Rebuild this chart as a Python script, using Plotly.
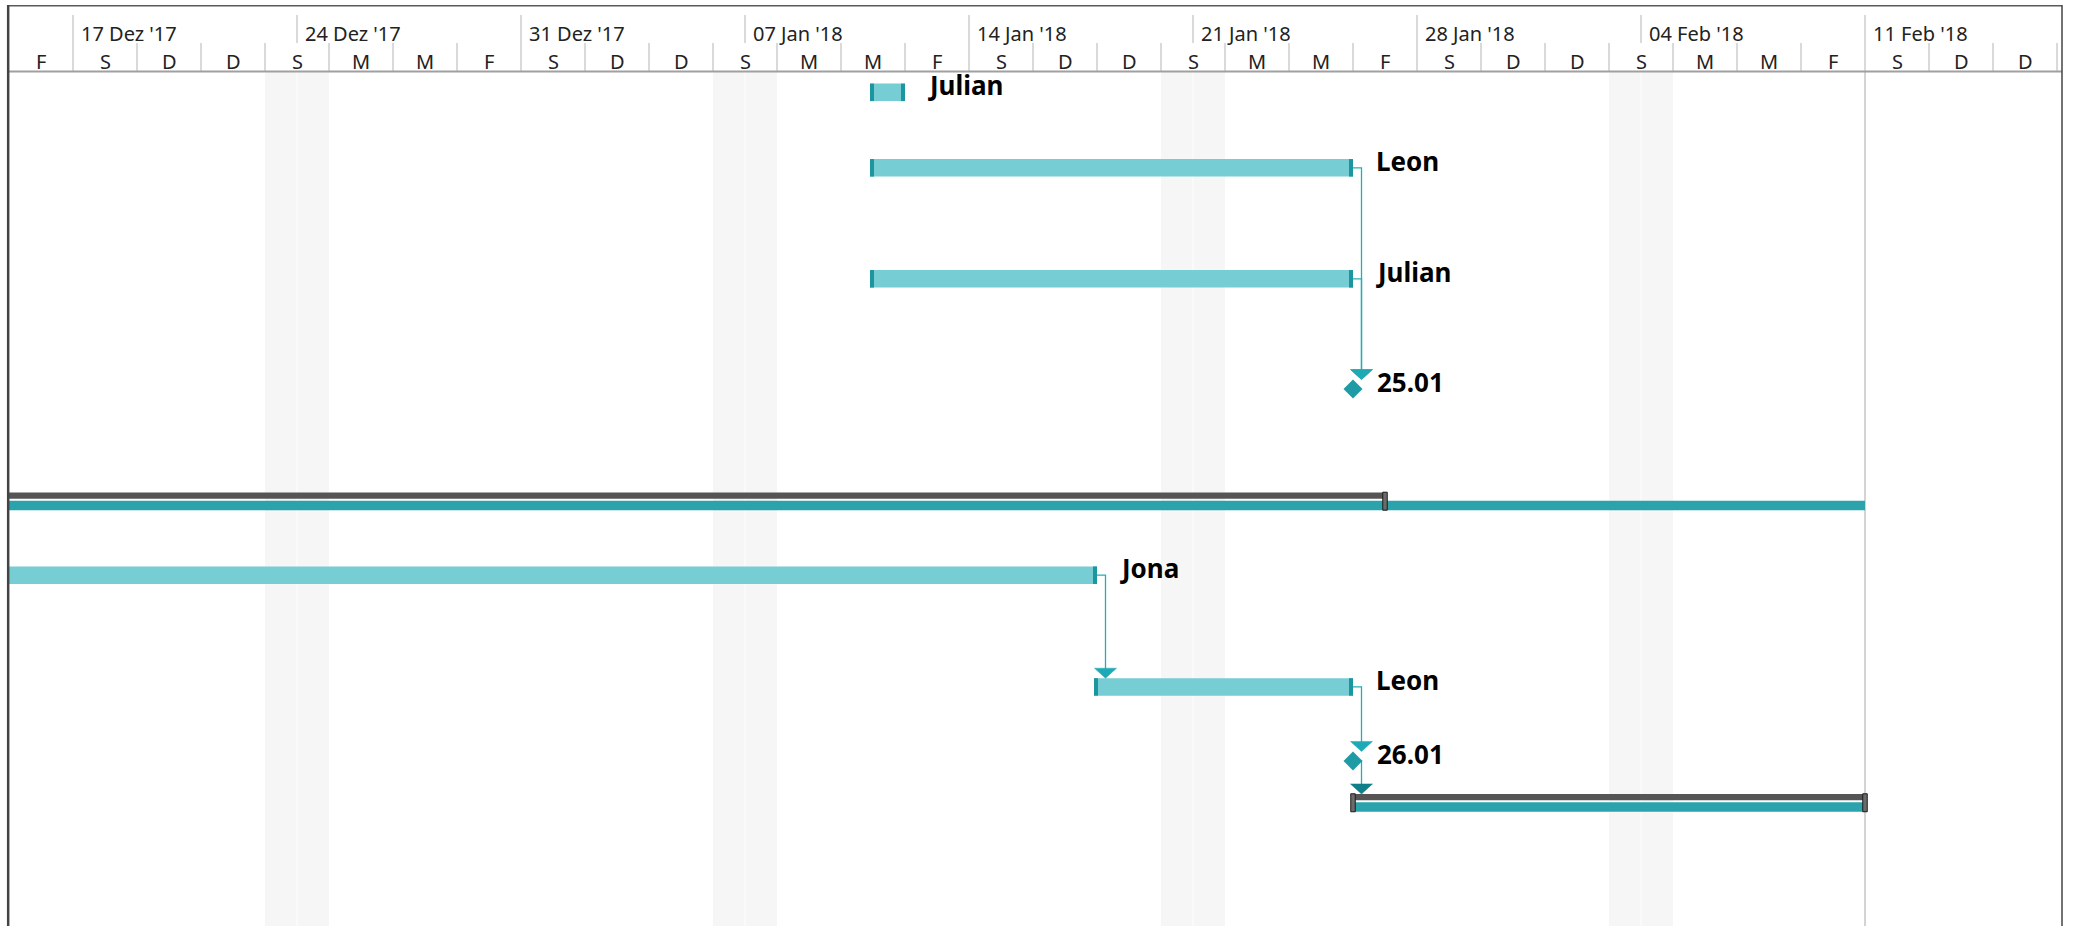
import plotly.graph_objects as go
import pandas as pd

# ---------------- data ----------------
WEEK_STARTS = ["2017-12-17", "2017-12-24", "2017-12-31", "2018-01-07", "2018-01-14",
               "2018-01-21", "2018-01-28", "2018-02-04", "2018-02-11"]
WEEK_LABELS = ["17 Dez '17", "24 Dez '17", "31 Dez '17", "07 Jan '18", "14 Jan '18",
               "21 Jan '18", "28 Jan '18", "04 Feb '18", "11 Feb '18"]
COLUMN_LABELS = ["F", "S", "D", "D", "S", "M", "M", "F", "S", "D", "D", "S", "M", "M", "F", "S",
                 "D", "D", "S", "M", "M", "F", "S", "D", "D", "S", "M", "M", "F", "S", "D", "D"]
COLUMN_FIRST = "2017-12-15"
WEEKEND_SATURDAYS = ["2017-12-23", "2018-01-06", "2018-01-20", "2018-02-03"]
FINISH_DATE = "2018-02-11"

TASK_LABELS = ["Julian", "Leon", "Julian", "Jona", "Leon"]
TASK_START = ["2018-01-11", "2018-01-11", "2018-01-11", "2017-12-04", "2018-01-18"]
TASK_END = ["2018-01-12", "2018-01-26", "2018-01-26", "2018-01-18", "2018-01-26"]

MILESTONE_LABELS = ["25.01", "26.01"]
MILESTONE_DATE = ["2018-01-26", "2018-01-26"]

SUMMARY_START = ["2017-12-04", "2018-01-26"]
SUMMARY_END = ["2018-01-27", "2018-02-11"]        # grey summary bar
SUMMARY_TEAL_END = ["2018-02-11", "2018-02-11"]   # teal bar

# links: (source kind, index) -> (target kind, index)
LINKS = [(("task", 1), ("ms", 0)), (("task", 2), ("ms", 0)), (("task", 3), ("task", 4)),
         (("task", 4), ("ms", 1)), (("ms", 1), ("sum", 1))]

# ---------------- layout (row positions, in row units) ----------------
TASK_ROW = [0.55, 2.59, 5.59, 13.6, 16.62]
MS_ROW = [8.57, 18.62]
SUM_ROW = [11.6, 19.75]

W, H = 2079, 926
ML, MR, MT, MB = 9, 17, 72, 0
PX_DAY = 32.0
PX_UNIT = 37.0
PLOT_W = W - ML - MR
PLOT_H = H - MT - MB
X0 = pd.Timestamp(COLUMN_FIRST)
X1 = X0 + pd.Timedelta(days=PLOT_W / PX_DAY)
Y_MAX = PLOT_H / PX_UNIT


def dx(px):
    return pd.Timedelta(days=px / PX_DAY)


def dy(px):
    return px / PX_UNIT


def paper_y(py):
    return 1 + (MT - py) / PLOT_H


def ms(td):
    return td / pd.Timedelta(milliseconds=1)


BAR_FILL = "#76cdd4"
BAR_CAP = "#1b969f"
SUM_GRAY = "#555555"
SUM_TEAL = "#2aa3ad"
LINK = "#22adb8"
ARROW = "#1eaab5"
ARROW_DARK = "#0f7f8a"
MS_COLOR = "#1f9ba6"
WEEKEND = "#f6f6f6"
HEAD_LINE = "#b4b4b4"
FONT = "Noto Sans"

t_start = pd.to_datetime(TASK_START)
t_end = pd.to_datetime(TASK_END)
m_date = pd.to_datetime(MILESTONE_DATE)
s_start = pd.to_datetime(SUMMARY_START)
s_end = pd.to_datetime(SUMMARY_END)
s_teal = pd.to_datetime(SUMMARY_TEAL_END)

BAR_H = dy(17.5)
CAP = dx(4)
LEAD = dx(3)   # bars are drawn starting slightly before the start date

fig = go.Figure()

# task bars
bar_base = [s - LEAD for s in t_start]
fig.add_trace(go.Bar(orientation="h", base=bar_base, x=[ms(e - b) for b, e in zip(bar_base, t_end)],
                     y=TASK_ROW, width=BAR_H, marker=dict(color=BAR_FILL, line=dict(width=0)),
                     hoverinfo="skip"))
fig.add_trace(go.Bar(orientation="h", base=bar_base + [e - CAP for e in t_end],
                     x=[ms(CAP)] * (2 * len(t_start)), y=TASK_ROW + TASK_ROW, width=BAR_H,
                     marker=dict(color=BAR_CAP, line=dict(width=0)), hoverinfo="skip"))

# summary bars
fig.add_trace(go.Bar(orientation="h", base=list(s_start), x=[ms(e - s) for s, e in zip(s_start, s_end)],
                     y=[r - dy(5.65) for r in SUM_ROW], width=dy(6.3),
                     marker=dict(color=SUM_GRAY, line=dict(width=0)), hoverinfo="skip"))
fig.add_trace(go.Bar(orientation="h", base=list(s_start), x=[ms(e - s) for s, e in zip(s_start, s_teal)],
                     y=[r + dy(4.2) for r in SUM_ROW], width=dy(9.5),
                     marker=dict(color=SUM_TEAL, line=dict(width=0)), hoverinfo="skip"))
SCAP = dx(4.5)
fig.add_trace(go.Bar(orientation="h",
                     base=[d - SCAP / 2 for d in s_start] + [d - SCAP / 2 for d in s_end],
                     x=[ms(SCAP)] * (2 * len(s_start)), y=SUM_ROW + SUM_ROW, width=dy(18),
                     marker=dict(color="#6b6b6b", line=dict(width=1, color="#1e1e1e")),
                     hoverinfo="skip"))


# connectors
def src_point(kind, i):
    if kind == "task":
        return t_end[i], TASK_ROW[i]
    return m_date[i], MS_ROW[i]


def tgt_top(kind, i):
    if kind == "task":
        return TASK_ROW[i] - BAR_H / 2
    if kind == "ms":
        return MS_ROW[i] - dy(9.5)
    return SUM_ROW[i] - dy(8.8)


for (sk, si), (tk, ti) in LINKS:
    sx, sy = src_point(sk, si)
    vx = sx + dx(8.5)
    tip = tgt_top(tk, ti)
    fig.add_trace(go.Scatter(x=[sx, vx, vx], y=[sy, sy, tip - dy(9)], mode="lines",
                             line=dict(color=LINK, width=1.3), hoverinfo="skip"))
    col = ARROW_DARK if tk == "sum" else ARROW
    fig.add_trace(go.Scatter(x=[vx - dx(11), vx + dx(11), vx, vx - dx(11)],
                             y=[tip - dy(10), tip - dy(10), tip, tip - dy(10)],
                             mode="lines", fill="toself", fillcolor=col,
                             line=dict(color=col, width=0.5), hoverinfo="skip"))

# milestones
fig.add_trace(go.Scatter(x=list(m_date), y=MS_ROW, mode="markers",
                         marker=dict(symbol="diamond", size=14.6, color=MS_COLOR, line=dict(width=0)),
                         hoverinfo="skip"))

annotations = []
label_font = dict(family=FONT, size=26, color="#000000")
for lab, e, r in zip(TASK_LABELS, t_end, TASK_ROW):
    annotations.append(dict(x=e, y=r, xref="x", yref="y", text="<b>%s</b>" % lab, showarrow=False,
                            xanchor="left", yanchor="middle", xshift=21, yshift=7, font=label_font))
for lab, d, r in zip(MILESTONE_LABELS, m_date, MS_ROW):
    annotations.append(dict(x=d, y=r, xref="x", yref="y", text="<b>%s</b>" % lab, showarrow=False,
                            xanchor="left", yanchor="middle", xshift=22, yshift=7, font=label_font))

# header
head_font = dict(family=FONT, size=20, color="#222222")
shapes = []
col_starts = pd.date_range(COLUMN_FIRST, periods=len(COLUMN_LABELS), freq="2D")
for c, lab in zip(col_starts, COLUMN_LABELS):
    annotations.append(dict(x=c + pd.Timedelta(days=1), y=paper_y(62), xref="x", yref="paper",
                            text=lab, showarrow=False, xanchor="center", yanchor="middle",
                            borderpad=0, font=head_font))
    b = c + pd.Timedelta(days=2)
    shapes.append(dict(type="line", xref="x", yref="paper", x0=b, x1=b, y0=paper_y(72), y1=paper_y(43),
                       line=dict(color=HEAD_LINE, width=1)))
for wk, lab in zip(pd.to_datetime(WEEK_STARTS), WEEK_LABELS):
    annotations.append(dict(x=wk, y=paper_y(34), xref="x", yref="paper", text=lab, showarrow=False,
                            xanchor="left", yanchor="middle", xshift=7, borderpad=0, font=head_font))
    shapes.append(dict(type="line", xref="x", yref="paper", x0=wk, x1=wk, y0=paper_y(43), y1=paper_y(15),
                       line=dict(color=HEAD_LINE, width=1)))

# weekend bands
for sat in pd.to_datetime(WEEKEND_SATURDAYS):
    sun = sat + pd.Timedelta(days=1)
    mon = sat + pd.Timedelta(days=2)
    shapes.append(dict(type="rect", xref="x", yref="paper", x0=sat, x1=sun - dx(0.5), y0=0, y1=1,
                       fillcolor=WEEKEND, line=dict(width=0), layer="below"))
    shapes.append(dict(type="rect", xref="x", yref="paper", x0=sun + dx(0.5), x1=mon, y0=0, y1=1,
                       fillcolor=WEEKEND, line=dict(width=0), layer="below"))

fd = pd.Timestamp(FINISH_DATE)
shapes.append(dict(type="line", xref="x", yref="paper", x0=fd, x1=fd, y0=0, y1=1,
                   line=dict(color="#a8a8a8", width=1), layer="below"))

# borders
shapes.append(dict(type="line", xref="paper", yref="paper", x0=0, x1=1, y0=paper_y(71.5), y1=paper_y(71.5),
                   line=dict(color="#a0a0a0", width=2)))
shapes.append(dict(type="line", xref="paper", yref="paper", x0=-0.0004, x1=1, y0=paper_y(5.7), y1=paper_y(5.7),
                   line=dict(color="#5a5a5a", width=1.5)))
shapes.append(dict(type="line", xref="paper", yref="paper", x0=-0.0004, x1=-0.0004, y0=0, y1=paper_y(5),
                   line=dict(color="#444444", width=2.5)))
shapes.append(dict(type="line", xref="paper", yref="paper", x0=1, x1=1, y0=0, y1=paper_y(5),
                   line=dict(color="#444444", width=1.5)))

fig.update_layout(
    width=W, height=H,
    margin=dict(l=ML, r=MR, t=MT, b=MB, pad=0, autoexpand=False),
    plot_bgcolor="white", paper_bgcolor="white",
    barmode="overlay", showlegend=False,
    xaxis=dict(type="date", range=[X0, X1], showgrid=False, zeroline=False, showticklabels=False,
               ticks="", showline=False, fixedrange=True),
    yaxis=dict(range=[Y_MAX, 0], showgrid=False, zeroline=False, showticklabels=False,
               ticks="", showline=False, fixedrange=True),
    shapes=shapes, annotations=annotations,
)

fig.write_html("out.html", config={"displayModeBar": False},
               post_script="document.body.style.margin='0';document.body.style.overflow='hidden';")
